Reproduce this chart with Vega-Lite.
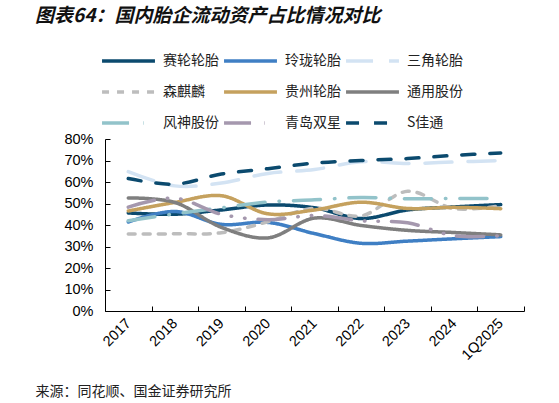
{
  "$schema": "https://vega.github.io/schema/vega-lite/v6.json",
  "width": 419,
  "height": 172,
  "autosize": {"type": "none"},
  "padding": {"left": 105, "top": 139, "right": 35, "bottom": 92},
  "title": {
    "text": "图表64：国内胎企流动资产占比情况对比",
    "anchor": "start",
    "frame": "bounds",
    "font": "Noto Sans CJK SC",
    "fontSize": 19,
    "fontWeight": "bold",
    "fontStyle": "italic",
    "color": "#111111",
    "offset": 25
  },
  "config": {
    "view": {"stroke": null},
    "axis": {"grid": false, "domainColor": "#000000", "tickColor": "#000000", "labelColor": "#000000"}
  },
  "data": {
    "values": [
      {"year": "2017", "series": "赛轮轮胎", "value": 0.456},
      {"year": "2018", "series": "赛轮轮胎", "value": 0.450},
      {"year": "2019", "series": "赛轮轮胎", "value": 0.470},
      {"year": "2020", "series": "赛轮轮胎", "value": 0.493},
      {"year": "2021", "series": "赛轮轮胎", "value": 0.480},
      {"year": "2022", "series": "赛轮轮胎", "value": 0.430},
      {"year": "2023", "series": "赛轮轮胎", "value": 0.470},
      {"year": "2024", "series": "赛轮轮胎", "value": 0.484},
      {"year": "1Q2025", "series": "赛轮轮胎", "value": 0.495},
      {"year": "2017", "series": "玲珑轮胎", "value": 0.414},
      {"year": "2018", "series": "玲珑轮胎", "value": 0.463},
      {"year": "2019", "series": "玲珑轮胎", "value": 0.403},
      {"year": "2020", "series": "玲珑轮胎", "value": 0.412},
      {"year": "2021", "series": "玲珑轮胎", "value": 0.360},
      {"year": "2022", "series": "玲珑轮胎", "value": 0.315},
      {"year": "2023", "series": "玲珑轮胎", "value": 0.325},
      {"year": "2024", "series": "玲珑轮胎", "value": 0.336},
      {"year": "1Q2025", "series": "玲珑轮胎", "value": 0.346},
      {"year": "2017", "series": "三角轮胎", "value": 0.648},
      {"year": "2018", "series": "三角轮胎", "value": 0.582},
      {"year": "2019", "series": "三角轮胎", "value": 0.595},
      {"year": "2020", "series": "三角轮胎", "value": 0.640},
      {"year": "2021", "series": "三角轮胎", "value": 0.658},
      {"year": "2022", "series": "三角轮胎", "value": 0.694},
      {"year": "2023", "series": "三角轮胎", "value": 0.686},
      {"year": "2024", "series": "三角轮胎", "value": 0.693},
      {"year": "1Q2025", "series": "三角轮胎", "value": 0.700},
      {"year": "2017", "series": "森麒麟", "value": 0.358},
      {"year": "2018", "series": "森麒麟", "value": 0.359},
      {"year": "2019", "series": "森麒麟", "value": 0.364},
      {"year": "2020", "series": "森麒麟", "value": 0.415},
      {"year": "2021", "series": "森麒麟", "value": 0.478},
      {"year": "2022", "series": "森麒麟", "value": 0.442},
      {"year": "2023", "series": "森麒麟", "value": 0.557},
      {"year": "2024", "series": "森麒麟", "value": 0.476},
      {"year": "1Q2025", "series": "森麒麟", "value": 0.490},
      {"year": "2017", "series": "贵州轮胎", "value": 0.465},
      {"year": "2018", "series": "贵州轮胎", "value": 0.505},
      {"year": "2019", "series": "贵州轮胎", "value": 0.536},
      {"year": "2020", "series": "贵州轮胎", "value": 0.452},
      {"year": "2021", "series": "贵州轮胎", "value": 0.470},
      {"year": "2022", "series": "贵州轮胎", "value": 0.506},
      {"year": "2023", "series": "贵州轮胎", "value": 0.477},
      {"year": "2024", "series": "贵州轮胎", "value": 0.482},
      {"year": "1Q2025", "series": "贵州轮胎", "value": 0.476},
      {"year": "2017", "series": "通用股份", "value": 0.526},
      {"year": "2018", "series": "通用股份", "value": 0.505},
      {"year": "2019", "series": "通用股份", "value": 0.389},
      {"year": "2020", "series": "通用股份", "value": 0.340},
      {"year": "2021", "series": "通用股份", "value": 0.432},
      {"year": "2022", "series": "通用股份", "value": 0.398},
      {"year": "2023", "series": "通用股份", "value": 0.375},
      {"year": "2024", "series": "通用股份", "value": 0.365},
      {"year": "1Q2025", "series": "通用股份", "value": 0.354},
      {"year": "2017", "series": "风神股份", "value": 0.420},
      {"year": "2018", "series": "风神股份", "value": 0.452},
      {"year": "2019", "series": "风神股份", "value": 0.480},
      {"year": "2020", "series": "风神股份", "value": 0.507},
      {"year": "2021", "series": "风神股份", "value": 0.517},
      {"year": "2022", "series": "风神股份", "value": 0.528},
      {"year": "2023", "series": "风神股份", "value": 0.522},
      {"year": "2024", "series": "风神股份", "value": 0.523},
      {"year": "1Q2025", "series": "风神股份", "value": 0.523},
      {"year": "2017", "series": "青岛双星", "value": 0.483},
      {"year": "2018", "series": "青岛双星", "value": 0.525},
      {"year": "2019", "series": "青岛双星", "value": 0.450},
      {"year": "2020", "series": "青岛双星", "value": 0.425},
      {"year": "2021", "series": "青岛双星", "value": 0.444},
      {"year": "2022", "series": "青岛双星", "value": 0.420},
      {"year": "2023", "series": "青岛双星", "value": 0.410},
      {"year": "2024", "series": "青岛双星", "value": 0.350},
      {"year": "1Q2025", "series": "青岛双星", "value": 0.350},
      {"year": "2017", "series": "S佳通", "value": 0.616},
      {"year": "2018", "series": "S佳通", "value": 0.590},
      {"year": "2019", "series": "S佳通", "value": 0.637},
      {"year": "2020", "series": "S佳通", "value": 0.662},
      {"year": "2021", "series": "S佳通", "value": 0.688},
      {"year": "2022", "series": "S佳通", "value": 0.700},
      {"year": "2023", "series": "S佳通", "value": 0.709},
      {"year": "2024", "series": "S佳通", "value": 0.724},
      {"year": "1Q2025", "series": "S佳通", "value": 0.735}
    ]
  },
  "mark": {"type": "line", "interpolate": "catmull-rom", "strokeWidth": 3.5, "strokeCap": "round"},
  "encoding": {
    "x": {
      "field": "year",
      "type": "nominal",
      "sort": null,
      "scale": {"paddingInner": 0, "paddingOuter": 0},
      "axis": {
        "title": "来源：同花顺、国金证券研究所",
        "titleFont": "Noto Sans CJK SC",
        "titleFontSize": 14,
        "titleFontWeight": "normal",
        "titleColor": "#222222",
        "titleAnchor": "start",
        "titleAlign": "left",
        "titleBaseline": "middle",
        "titleX": -70,
        "titleY": 80,
        "labelAngle": -45,
        "labelAlign": "right",
        "labelBaseline": "middle",
        "labelFont": "Liberation Sans",
        "labelFontSize": 14.5,
        "labelPadding": 15,
        "tickSize": -5,
        "tickBand": "extent"
      }
    },
    "y": {
      "field": "value",
      "type": "quantitative",
      "scale": {"domain": [0, 0.8]},
      "axis": {
        "title": null,
        "values": [0, 0.1, 0.2, 0.3, 0.4, 0.5, 0.6, 0.7, 0.8],
        "format": ".0%",
        "labelFont": "Liberation Sans",
        "labelFontSize": 14.5,
        "labelPadding": 17,
        "tickSize": -5
      }
    },
    "color": {
      "field": "series",
      "type": "nominal",
      "scale": {
        "domain": ["赛轮轮胎", "玲珑轮胎", "三角轮胎", "森麒麟", "贵州轮胎", "通用股份", "风神股份", "青岛双星", "S佳通"],
        "range": ["#0b4a6e", "#3f7fc4", "#d3e3f3", "#bdbdbd", "#c5a15e", "#7f7f7f", "#92c3ca", "#a598ae", "#0b4a6e"]
      },
      "legend": {
        "title": null,
        "orient": "none",
        "direction": "horizontal",
        "legendX": -5,
        "legendY": -88,
        "columns": 3,
        "columnPadding": 3,
        "rowPadding": 11,
        "clipHeight": 20,
        "symbolType": "stroke",
        "symbolSize": 2800,
        "symbolStrokeWidth": 3.5,
        "symbolOffset": 0,
        "labelOffset": 6,
        "labelFont": "Noto Sans CJK SC",
        "labelFontSize": 14,
        "labelColor": "#222222"
      }
    },
    "strokeDash": {
      "field": "series",
      "type": "nominal",
      "scale": {
        "domain": ["赛轮轮胎", "玲珑轮胎", "三角轮胎", "森麒麟", "贵州轮胎", "通用股份", "风神股份", "青岛双星", "S佳通"],
        "range": [[1, 0], [1, 0], [27, 16], [7, 8], [1, 0], [1, 0], [27, 14, 0.5, 14], [27, 13, 0.5, 13, 0.5, 13], [13, 15]]
      },
      "legend": {
        "title": null,
        "orient": "none",
        "direction": "horizontal",
        "legendX": -5,
        "legendY": -88,
        "columns": 3,
        "columnPadding": 3,
        "rowPadding": 11,
        "clipHeight": 20,
        "symbolType": "stroke",
        "symbolSize": 2800,
        "symbolStrokeWidth": 3.5,
        "symbolOffset": 0,
        "labelOffset": 6,
        "labelFont": "Noto Sans CJK SC",
        "labelFontSize": 14,
        "labelColor": "#222222"
      }
    }
  }
}
